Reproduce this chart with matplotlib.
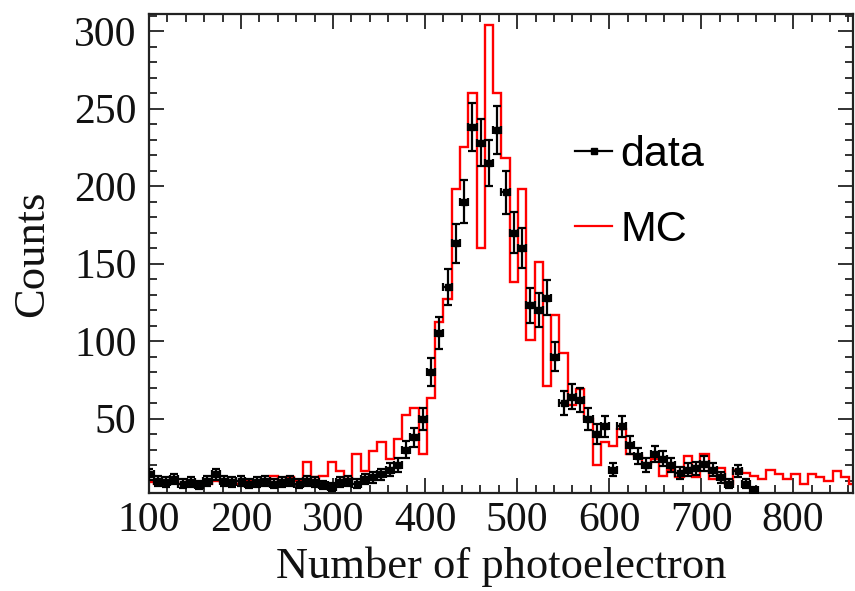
import numpy as np
import matplotlib
matplotlib.use('Agg')
import matplotlib.pyplot as plt
from matplotlib.lines import Line2D
from matplotlib.ticker import MultipleLocator

# Histogram binning (number of photoelectrons)
bin_start = 96
bin_width = 9

# MC histogram counts per bin
mc_counts = [9, 8, 10, 9, 8, 10, 9, 8, 10, 9,
             9, 8, 10, 9, 9, 13, 10, 12, 10, 22,
             12, 13, 22, 16, 11, 27, 16, 29, 35, 24,
             37, 52, 57, 27, 63, 112, 127, 198, 225, 260,
             160, 304, 260, 218, 138, 198, 101, 151, 71, 117,
             92, 59, 69, 50, 20, 35, 32, 43, 27, 26,
             21, 24, 13, 17, 12, 26, 12, 27, 11, 18,
             8, 17, 15, 13, 11, 17, 14, 11, 14, 8,
             14, 12, 10, 16, 12, 8]

# Measured data counts per bin
data_counts = [14, 10, 9, 11, 8, 9, 7, 10, 14, 10,
               9, 10, 8, 9, 10, 8, 9, 10, 8, 10,
               9, 7, 6, 9, 10, 8, 11, 12, 14, 17,
               20, 30, 38, 50, 80, 105, 135, 163, 190, 238,
               228, 215, 236, 196, 170, 160, 123, 120, 128, 90,
               60, 64, 62, 50, 40, 45, 17, 45, 33, 26,
               20, 27, 24, 20, 15, 17, 18, 21, 17, 12,
               8, 16, 8, 4]

x_ticks = [100, 200, 300, 400, 500, 600, 700, 800]
y_ticks = [50, 100, 150, 200, 250, 300]

mc = np.array(mc_counts, dtype=float)
data = np.array(data_counts, dtype=float)
edges = bin_start + bin_width * np.arange(len(mc) + 1)
centers = bin_start + bin_width * (np.arange(len(data)) + 0.5)

serif = ['Liberation Serif', 'DejaVu Serif']
sans = ['Liberation Sans', 'DejaVu Sans']

fig = plt.figure(figsize=(8.55, 5.91), dpi=100)
W, H = 855, 591
L, R, T, B = 149, 853, 14, 493
ax = fig.add_axes([L / W, 1 - B / H, (R - L) / W, (B - T) / H])

ax.stairs(mc, edges, baseline=None, color='red', lw=1.7, zorder=2)
ax.errorbar(centers, data, yerr=np.sqrt(data), xerr=bin_width / 2,
            fmt='s', ms=4.2, color='black', ecolor='black',
            elinewidth=1.6, capsize=2.8, capthick=1.6, zorder=3)

ax.set_xlim(100, 865)
ax.set_ylim(2, 311)
ax.set_xticks(x_ticks)
ax.set_yticks(y_ticks)
ax.xaxis.set_minor_locator(MultipleLocator(20))
ax.yaxis.set_minor_locator(MultipleLocator(10))
ax.tick_params(which='both', direction='in', top=True, right=True,
               width=1.3, color='#222222')
ax.tick_params(which='major', length=11)
ax.tick_params(which='minor', length=5.5)
ax.tick_params(axis='x', pad=6)
ax.tick_params(axis='y', pad=9)
for lab in ax.get_xticklabels() + ax.get_yticklabels():
    lab.set_fontfamily(serif)
    lab.set_fontsize(30)
    lab.set_color('#111111')
for s in ax.spines.values():
    s.set_linewidth(1.6)
    s.set_color('#222222')

ax.set_xlabel('Number of photoelectron', fontfamily=serif, fontsize=32,
              labelpad=5, color='#111111')
ax.set_ylabel('Counts', fontfamily=serif, fontsize=32, labelpad=16,
              color='#111111')

handles = [Line2D([], [], color='black', marker='s', ms=5, lw=1.6),
           Line2D([], [], color='red', lw=1.6)]
leg = ax.legend(handles, ['data', 'MC'], loc='upper left',
                bbox_to_anchor=((558 - L) / (R - L), 1 - (118 - T) / (B - T)),
                frameon=False, handlelength=0.85, handletextpad=0.2,
                labelspacing=0.8, borderaxespad=0,
                prop={'family': sans, 'size': 31})

fig.savefig('out.png', dpi=100)
